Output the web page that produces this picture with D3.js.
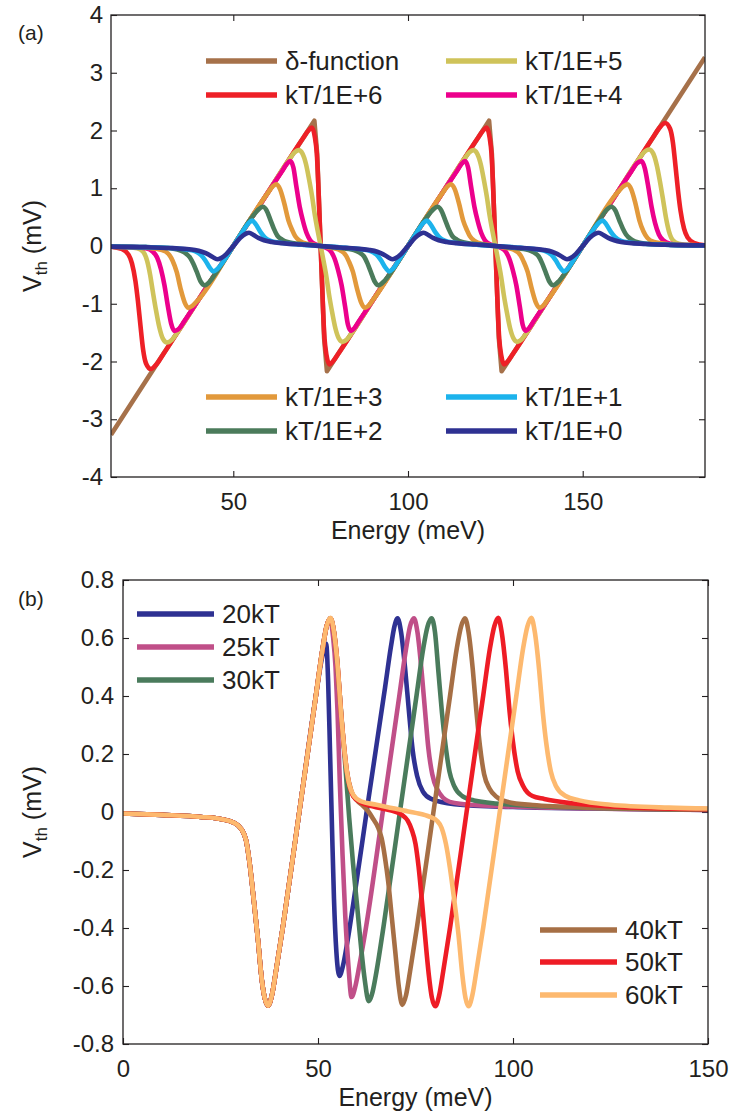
<!DOCTYPE html>
<html><head><meta charset="utf-8">
<script src="https://cdn.jsdelivr.net/npm/d3@7"></script>
<style>
body{margin:0;background:#fff}
text{font-family:"Liberation Sans",Arial,Helvetica,sans-serif;fill:#231f20}
</style>
</head><body>
<svg id="c" width="733" height="1116"></svg>
<script>
// ================= DATA: panel (a) =================
const aEnergyTicks = [50, 100, 150];
const aVoltTicks = [-4, -3, -2, -1, 0, 1, 2, 3, 4];
const aLabels = ["δ-function", "kT/1E+6", "kT/1E+5", "kT/1E+4", "kT/1E+3", "kT/1E+2", "kT/1E+1", "kT/1E+0"];

const aDelta = [[15,-3.27],[73.2,2.17],[74,1.6],[76,-1.6],[76.8,-2.17],[123.2,2.17],[124,1.6],[126,-1.6],[126.8,-2.17],[185,3.27]];

const aKT6 = [[15,-0.01],[18,-0.05],[20,-0.15],[21,-0.3],[22,-0.61],[22.7,-0.95],[23.4,-1.36],[24.2,-1.8],[25,-2.03],[26.4,-2.13],[28,-2.05],[30,-1.87],[40,-0.935],[50,0],
 [60,0.935],[70,1.87],[71.5,2.0],[72.5,2.05],[73.3,1.9],[73.9,1.6],[75,0],[76.1,-1.6],[76.7,-1.9],[77.5,-2.05],[78.5,-2.0],[80,-1.87],[90,-0.935],[100,0],
 [110,0.935],[120,1.87],[121.5,2.0],[122.5,2.05],[123.3,1.9],[123.9,1.6],[125,0],[126.1,-1.6],[126.7,-1.9],[127.5,-2.05],[128.5,-2.0],[130,-1.87],[140,-0.935],[150,0],
 [160,0.935],[170,1.87],[172,2.05],[173.6,2.13],[175,2.03],[175.8,1.8],[176.6,1.36],[177.3,0.95],[178,0.61],[179,0.3],[180,0.15],[182,0.05],[185,0.01]];

const aKT5 = [[15,-0.01],[19,-0.015],[22.5,-0.04],[24.2,-0.1],[25.3,-0.25],[26.2,-0.5],[27,-0.8],[27.9,-1.12],[28.8,-1.4],[29.8,-1.6],[31,-1.67],[32.5,-1.62],[34,-1.5],[40,-0.935],[50,0],
 [60,0.935],[66,1.5],[67.5,1.62],[68.7,1.66],[69.8,1.6],[70.8,1.42],[71.7,1.15],[72.6,0.84],[73.3,0.55],[74.1,0.28],[75,0],[75.9,-0.28],[76.7,-0.55],[77.4,-0.84],[78.3,-1.15],[79.2,-1.42],[80.2,-1.6],[81.3,-1.66],[82.5,-1.62],[84,-1.5],[90,-0.935],[100,0],
 [110,0.935],[116,1.5],[117.5,1.62],[118.7,1.66],[119.8,1.6],[120.8,1.42],[121.7,1.15],[122.6,0.84],[123.3,0.55],[124.1,0.28],[125,0],[125.9,-0.28],[126.7,-0.55],[127.4,-0.84],[128.3,-1.15],[129.2,-1.42],[130.2,-1.6],[131.3,-1.66],[132.5,-1.62],[134,-1.5],[140,-0.935],[150,0],
 [160,0.935],[166,1.5],[167.5,1.62],[169,1.67],[170.2,1.6],[171.2,1.4],[172.1,1.12],[173,0.8],[173.8,0.5],[174.7,0.25],[175.8,0.1],[177.5,0.04],[181,0.015],[185,0.01]];

const aKT4 = [[15,-0.01],[21,-0.015],[25,-0.04],[27,-0.1],[28.2,-0.2],[29.3,-0.4],[30.3,-0.68],[31.3,-1.05],[32.2,-1.34],[33.2,-1.47],[34.5,-1.43],[36,-1.3],[40,-0.935],[50,0],
 [60,0.935],[64,1.3],[65.3,1.42],[66.3,1.47],[67.2,1.36],[68,1.05],[69,0.68],[70,0.42],[71,0.22],[72,0.1],[73.5,0.03],[75,0],[76.5,-0.03],[78,-0.1],[79,-0.22],[80,-0.42],[81,-0.68],[82,-1.05],[82.8,-1.36],[83.7,-1.47],[84.7,-1.42],[86,-1.3],[90,-0.935],[100,0],
 [110,0.935],[114,1.3],[115.3,1.42],[116.3,1.47],[117.2,1.36],[118,1.05],[119,0.68],[120,0.42],[121,0.22],[122,0.1],[123.5,0.03],[125,0],[126.5,-0.03],[128,-0.1],[129,-0.22],[130,-0.42],[131,-0.68],[132,-1.05],[132.8,-1.36],[133.7,-1.47],[134.7,-1.42],[136,-1.3],[140,-0.935],[150,0],
 [160,0.935],[164,1.3],[165.5,1.43],[166.8,1.47],[167.8,1.34],[168.7,1.05],[169.7,0.68],[170.7,0.4],[171.8,0.2],[173,0.1],[175,0.04],[179,0.015],[185,0.01]];

const aKT3 = [[15,-0.01],[20,-0.015],[25,-0.03],[29.6,-0.07],[31.5,-0.14],[32.6,-0.25],[33.8,-0.45],[35,-0.76],[36.1,-0.98],[37.1,-1.07],[38.2,-1.04],[40,-0.93],[50,0],
 [60,0.93],[61.4,1.04],[62.4,1.07],[63.4,0.98],[64.5,0.76],[65.8,0.44],[66.9,0.27],[67.7,0.17],[69.3,0.08],[71.1,0.04],[73,0.02],[75,0],[77,-0.02],[78.9,-0.04],[80.7,-0.08],[82.3,-0.17],[83.1,-0.27],[84.2,-0.44],[85.5,-0.76],[86.6,-0.98],[87.6,-1.07],[88.6,-1.04],[90,-0.93],[100,0],
 [110,0.93],[111.4,1.04],[112.4,1.07],[113.4,0.98],[114.5,0.76],[115.8,0.44],[116.9,0.27],[117.7,0.17],[119.3,0.08],[121.1,0.04],[123,0.02],[125,0],[127,-0.02],[128.9,-0.04],[130.7,-0.08],[132.3,-0.17],[133.1,-0.27],[134.2,-0.44],[135.5,-0.76],[136.6,-0.98],[137.6,-1.07],[138.6,-1.04],[140,-0.93],[150,0],
 [160,0.93],[161.8,1.04],[162.9,1.07],[163.9,0.98],[165,0.76],[166.2,0.45],[167.4,0.25],[168.5,0.14],[170.4,0.07],[175,0.03],[180,0.015],[185,0.01]];

const aKT2 = [[15,-0.01],[25,-0.02],[30,-0.03],[34,-0.06],[36,-0.11],[37.6,-0.2],[38.5,-0.3],[39.5,-0.44],[40.7,-0.62],[41.8,-0.68],[43.2,-0.62],[45,-0.47],[50,0],
 [55,0.47],[57,0.62],[58.5,0.68],[59.5,0.62],[60.7,0.44],[61.6,0.3],[62.6,0.18],[64,0.11],[65.5,0.07],[70,0.03],[75,0],[80,-0.03],[84.5,-0.07],[86,-0.11],[87.4,-0.18],[88.4,-0.3],[89.3,-0.44],[90.5,-0.62],[91.5,-0.68],[93,-0.62],[95,-0.47],[100,0],
 [105,0.47],[107,0.62],[108.5,0.68],[109.5,0.62],[110.7,0.44],[111.6,0.3],[112.6,0.18],[114,0.11],[115.5,0.07],[120,0.03],[125,0],[130,-0.03],[134.5,-0.07],[136,-0.11],[137.4,-0.18],[138.4,-0.3],[139.3,-0.44],[140.5,-0.62],[141.5,-0.68],[143,-0.62],[145,-0.47],[150,0],
 [155,0.47],[156.8,0.62],[158.2,0.68],[159.3,0.62],[160.5,0.44],[161.5,0.3],[162.4,0.2],[164,0.11],[166,0.06],[170,0.03],[175,0.02],[185,0.01]];

const aKT1 = [[15,-0.01],[25,-0.02],[33,-0.04],[36.5,-0.06],[39,-0.09],[40.8,-0.16],[42,-0.25],[43.3,-0.38],[44.3,-0.44],[45.4,-0.4],[47,-0.28],[50,0],
 [53,0.28],[54.4,0.4],[55.4,0.44],[56.4,0.38],[57.8,0.24],[59,0.15],[60.7,0.09],[63,0.06],[66,0.04],[70,0.02],[75,0],[80,-0.02],[84,-0.04],[87,-0.06],[89.3,-0.09],[91,-0.15],[92.2,-0.24],[93.6,-0.38],[94.6,-0.44],[95.6,-0.4],[97,-0.28],[100,0],
 [103,0.28],[104.4,0.4],[105.4,0.44],[106.4,0.38],[107.8,0.24],[109,0.15],[110.7,0.09],[113,0.06],[116,0.04],[120,0.02],[125,0],[130,-0.02],[134,-0.04],[137,-0.06],[139.3,-0.09],[141,-0.15],[142.2,-0.24],[143.6,-0.38],[144.6,-0.44],[145.6,-0.4],[147,-0.28],[150,0],
 [153,0.28],[154.6,0.4],[155.7,0.44],[156.7,0.38],[158,0.25],[159.2,0.16],[161,0.09],[163.5,0.06],[167,0.04],[175,0.02],[185,0.01]];

const aKT0 = [[15,-0.01],[25,-0.02],[32,-0.035],[36,-0.05],[39,-0.07],[41,-0.1],[42.7,-0.14],[44.1,-0.19],[45.4,-0.23],[46.5,-0.21],[48,-0.14],[50,0],
 [52,0.14],[53.5,0.21],[54.5,0.23],[55.8,0.19],[57.2,0.14],[58.8,0.1],[61,0.07],[64,0.05],[68,0.03],[71,0.02],[75,0],[79,-0.02],[82,-0.03],[86,-0.05],[89,-0.07],[91.2,-0.1],[92.8,-0.14],[94.2,-0.19],[95.5,-0.23],[96.5,-0.21],[98,-0.14],[100,0],
 [102,0.14],[103.5,0.21],[104.5,0.23],[105.8,0.19],[107.2,0.14],[108.8,0.1],[111,0.07],[114,0.05],[118,0.03],[121,0.02],[125,0],[129,-0.02],[132,-0.03],[136,-0.05],[139,-0.07],[141.2,-0.1],[142.8,-0.14],[144.2,-0.19],[145.5,-0.23],[146.5,-0.21],[148,-0.14],[150,0],
 [152,0.14],[153.5,0.21],[154.6,0.23],[155.9,0.19],[157.3,0.14],[159,0.1],[161,0.07],[164,0.05],[168,0.035],[175,0.02],[185,0.01]];

// ================= DATA: panel (b) =================
const bEnergyTicks = [0, 50, 100, 150];
const bVoltTicks = [-0.8, -0.6, -0.4, -0.2, 0, 0.2, 0.4, 0.6, 0.8];
const bLabels = ["20kT", "25kT", "30kT", "40kT", "50kT", "60kT"];

const bShared = [[0,-0.005],[10,-0.01],[20,-0.017],[25,-0.024],[28.3,-0.036],[30.4,-0.06],[31.6,-0.1],[32.5,-0.18],[33.5,-0.3],[34.6,-0.44],[35.6,-0.58],[36.4,-0.645],[37.2,-0.668],[38.2,-0.63],[39.2,-0.55],[41,-0.395],[45.2,0],[49.5,0.405]];

const b20Tail = [[51,0.53],[51.7,0.57],[52.1,0.58],[52.6,0.45],[53.1,0.2],[53.6,-0.06],[54.1,-0.3],[54.7,-0.48],[55.5,-0.565],[56.4,-0.53],[57.5,-0.45],[59,-0.32],[63,0.05],[67.2,0.43],[68.7,0.57],[69.6,0.64],[70.4,0.668],[71.3,0.62],[72.3,0.5],[73.3,0.35],[74.3,0.21],[75.4,0.125],[76.9,0.07],[79,0.045],[85,0.027],[100,0.017],[120,0.012],[150,0.007]];
const b25Tail = [[51.2,0.565],[52.2,0.64],[53.1,0.665],[53.9,0.6],[54.5,0.5],[55,0.35],[55.6,0.1],[56.3,-0.15],[57,-0.36],[57.8,-0.53],[58.6,-0.638],[59.6,-0.6],[60.6,-0.53],[62.4,-0.39],[66.6,0],[70.9,0.405],[72.6,0.565],[73.6,0.64],[74.6,0.668],[75.5,0.62],[76.6,0.48],[77.5,0.34],[78.3,0.22],[79.3,0.13],[80.5,0.08],[83.8,0.035],[90,0.024],[110,0.015],[130,0.01],[150,0.007]];
const b30Tail = [[51.2,0.565],[52.2,0.64],[53.2,0.668],[54.1,0.62],[55,0.5],[56,0.33],[57,0.16],[58,-0.02],[59,-0.18],[60,-0.32],[61,-0.46],[62,-0.58],[63,-0.652],[64,-0.62],[65,-0.55],[66.8,-0.395],[71,0],[75.3,0.405],[77,0.565],[78.1,0.64],[79.1,0.668],[80,0.62],[80.9,0.48],[81.8,0.34],[82.7,0.23],[83.7,0.14],[84.9,0.09],[87,0.055],[90,0.04],[100,0.025],[120,0.014],[150,0.008]];
const b40Tail = [[51.2,0.565],[52.2,0.64],[53.2,0.668],[54.1,0.62],[54.8,0.54],[56.1,0.31],[57.4,0.14],[58.6,0.07],[60,0.04],[61.6,0.02],[63,0],[64.2,-0.025],[65.3,-0.05],[66.3,-0.09],[67.2,-0.16],[68,-0.24],[68.9,-0.36],[69.8,-0.48],[70.7,-0.6],[71.6,-0.665],[72.6,-0.63],[73.6,-0.55],[75.4,-0.395],[79.6,0],[83.9,0.405],[85.6,0.565],[86.7,0.64],[87.7,0.668],[88.6,0.62],[89.7,0.49],[90.6,0.35],[91.5,0.23],[92.6,0.13],[94,0.08],[96,0.05],[98.5,0.035],[105,0.024],[120,0.015],[150,0.009]];
const b50Tail = [[51.2,0.565],[52.2,0.64],[53.2,0.668],[54.1,0.62],[54.8,0.54],[56.1,0.31],[57.4,0.14],[59,0.055],[61,0.033],[64,0.02],[67,0.01],[69.5,0.002],[71.5,-0.01],[73,-0.03],[74,-0.06],[75,-0.11],[75.8,-0.19],[76.6,-0.3],[77.4,-0.42],[78.4,-0.56],[79.2,-0.64],[80.1,-0.67],[81.1,-0.63],[82.1,-0.55],[83.9,-0.395],[88.1,0],[92.4,0.405],[94.1,0.565],[95.2,0.64],[96.2,0.67],[97.1,0.62],[98.2,0.49],[99.1,0.35],[100,0.24],[101.2,0.14],[102.6,0.09],[105,0.055],[108,0.045],[115,0.03],[130,0.016],[150,0.01]];
const b60Tail = [[51.2,0.565],[52.2,0.64],[53.2,0.67],[54.1,0.62],[54.8,0.54],[56.1,0.31],[57.4,0.14],[59,0.06],[61,0.037],[65,0.025],[68.5,0.015],[72,0.005],[75,-0.003],[78.7,-0.017],[80.5,-0.03],[81.7,-0.055],[82.8,-0.11],[83.8,-0.19],[84.9,-0.3],[86,-0.42],[87,-0.56],[87.8,-0.64],[88.6,-0.67],[89.6,-0.63],[90.6,-0.55],[92.4,-0.395],[96.6,0],[100.9,0.405],[102.6,0.565],[103.7,0.64],[104.7,0.67],[105.6,0.62],[106.7,0.49],[107.6,0.35],[108.5,0.24],[109.7,0.14],[111,0.09],[113.5,0.055],[117,0.04],[125,0.025],[140,0.015],[150,0.012]];

// ================= STYLES / LAYOUT =================
const aColors = ["#a6714a", "#ee2027", "#cfc35a", "#ec008c", "#e2993b", "#4b7b5b", "#1cb3ec", "#2e3192"];
const bColors = ["#2e3192", "#c04f88", "#4a7b5c", "#a66f45", "#ee1c25", "#fdb96f"];
const INK = "#231f20";

const svg = d3.select("#c");

function drawPanel(o) {
  const g = svg.append("g");
  const x = d3.scaleLinear().domain(o.xDomain).range([o.left, o.right]);
  const y = d3.scaleLinear().domain(o.yDomain).range([o.bottom, o.top]);

  svg.append("clipPath").attr("id", o.id).append("rect")
    .attr("x", o.left).attr("y", o.top)
    .attr("width", o.right - o.left).attr("height", o.bottom - o.top);

  const styleAxis = sel => {
    sel.attr("font-size", null).attr("font-family", null).style("color", INK);
    sel.select(".domain").remove();
    sel.selectAll("line").attr("stroke-width", 1.1);
    sel.selectAll("text").style("font-size", "24px");
  };
  g.append("g").attr("transform", `translate(0,${o.bottom})`)
    .call(d3.axisBottom(x).tickValues(o.xTicks).tickSize(-6).tickPadding(16).tickFormat(d => String(d))).call(styleAxis);
  g.append("g").attr("transform", `translate(0,${o.top})`)
    .call(d3.axisTop(x).tickValues(o.xTicks).tickSize(-6).tickFormat("")).call(styleAxis);
  g.append("g").attr("transform", `translate(${o.left},0)`)
    .call(d3.axisLeft(y).tickValues(o.yTicks).tickSize(-6).tickPadding(o.yPad).tickFormat(d => String(d))).call(styleAxis);
  g.append("g").attr("transform", `translate(${o.right},0)`)
    .call(d3.axisRight(y).tickValues(o.yTicks).tickSize(-6).tickFormat("")).call(styleAxis);

  const curves = g.append("g").attr("clip-path", `url(#${o.id})`);
  o.series.forEach((s, i) => {
    const ln = d3.line().x(d => x(d[0])).y(d => y(d[1]))
      .curve(o.linear && o.linear[i] ? d3.curveLinear : d3.curveMonotoneX);
    curves.append("path").attr("d", ln(s)).attr("fill", "none")
      .attr("stroke", o.colors[i]).attr("stroke-width", 4.6)
      .attr("stroke-linejoin", "round");
  });

  g.append("rect").attr("x", o.left).attr("y", o.top)
    .attr("width", o.right - o.left).attr("height", o.bottom - o.top)
    .attr("fill", "none").attr("stroke", INK).attr("stroke-width", 1.3);

  // legend
  o.labels.forEach((lab, i) => {
    const [lx, ly] = o.legendSlots[i];
    g.append("line").attr("x1", lx).attr("x2", lx + o.legendLen).attr("y1", ly).attr("y2", ly)
      .attr("stroke", o.colors[i]).attr("stroke-width", 5.5);
    g.append("text").attr("x", lx + o.legendLen + 8).attr("y", ly).attr("dy", "0.36em")
      .style("font-size", "26px").text(lab);
  });

  // axis labels
  g.append("text").attr("x", (o.left + o.right) / 2).attr("y", o.bottom + 62)
    .attr("text-anchor", "middle").style("font-size", "25px").text("Energy (meV)");
  const yl = g.append("text")
    .attr("transform", `translate(41,${(o.top + o.bottom) / 2}) rotate(-90)`)
    .attr("text-anchor", "middle").style("font-size", "25px");
  yl.append("tspan").text("V");
  yl.append("tspan").attr("dy", 6).style("font-size", "17px").text("th");
  yl.append("tspan").attr("dy", -6).text(" (mV)");

  g.append("text").attr("x", 18).attr("y", o.panelLabelY).style("font-size", "21px").text(o.panelLabel);
}

drawPanel({
  id: "clipA", left: 111, right: 705, top: 15, bottom: 477,
  xDomain: [15, 185], yDomain: [-4, 4],
  xTicks: aEnergyTicks, yTicks: aVoltTicks, yPad: 8,
  series: [aDelta, aKT6, aKT5, aKT4, aKT3, aKT2, aKT1, aKT0],
  linear: [true],
  colors: aColors, labels: aLabels,
  legendSlots: [[206, 61], [206, 95], [446, 61], [446, 95], [206, 397], [206, 431], [446, 397], [446, 431]],
  legendLen: 71,
  panelLabel: "(a)", panelLabelY: 40
});

drawPanel({
  id: "clipB", left: 123, right: 708, top: 580, bottom: 1044,
  xDomain: [0, 150], yDomain: [-0.8, 0.8],
  xTicks: bEnergyTicks, yTicks: bVoltTicks, yPad: 9,
  series: [bShared.concat(b20Tail), bShared.concat(b25Tail), bShared.concat(b30Tail),
           bShared.concat(b40Tail), bShared.concat(b50Tail), bShared.concat(b60Tail)],
  colors: bColors, labels: bLabels,
  legendSlots: [[137, 614], [137, 647], [137, 680], [540, 930], [540, 962], [540, 995]],
  legendLen: 77,
  panelLabel: "(b)", panelLabelY: 606
});
</script>
</body></html>
